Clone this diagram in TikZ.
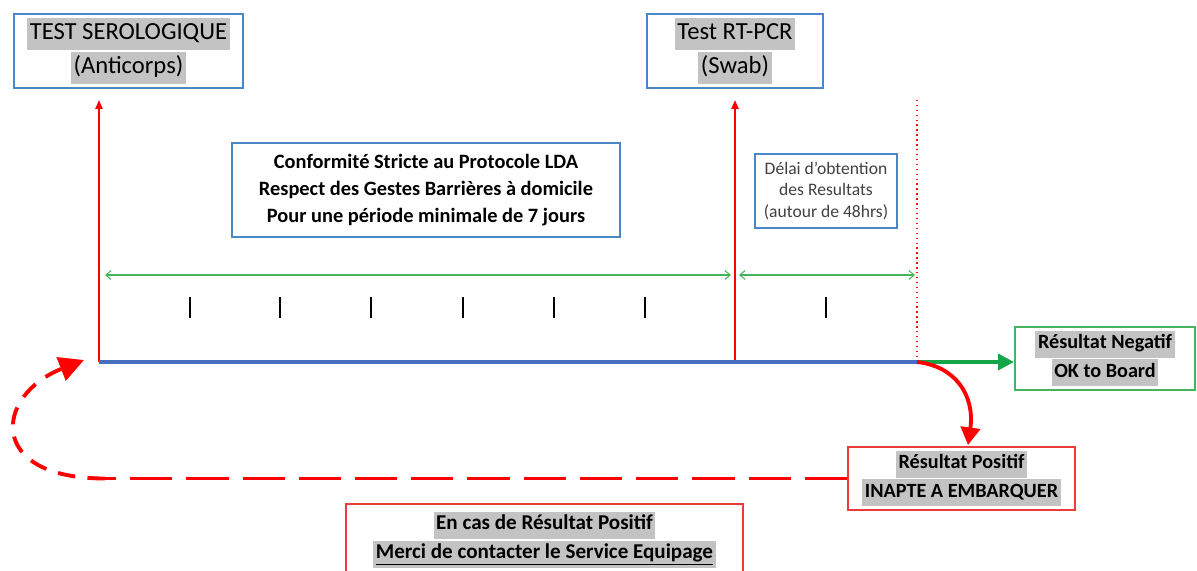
\documentclass[tikz,border=0pt]{standalone}
\usepackage{fontspec}
\setmainfont{Carlito}
\usetikzlibrary{arrows.meta}
\definecolor{boxblue}{RGB}{75,135,200}
\definecolor{boxgreen}{RGB}{70,180,90}
\definecolor{boxred}{RGB}{235,60,60}
\definecolor{lineblue}{RGB}{70,110,190}
\definecolor{arrowgreen}{RGB}{20,165,70}
\definecolor{hlgray}{RGB}{195,195,195}
\newcommand{\hl}[1]{{\setlength{\fboxsep}{1.5pt}\colorbox{hlgray}{\strut #1}}}

\begin{document}
\begin{tikzpicture}[x=0.02cm, y=-0.02cm,
    bluebox/.style={draw=boxblue, line width=1.2pt, align=center, inner sep=2pt},
    greenbox/.style={draw=boxgreen, line width=1.2pt, align=center, inner sep=2pt},
    redbox/.style={draw=boxred, line width=1.2pt, align=center, inner sep=2pt},
    upline/.style={draw=red, line width=1.1pt, -{Triangle[length=5pt,width=4pt]}},
    span/.style={draw=boxgreen, line width=0.6pt, {Straight Barb[length=3pt,width=5pt]}-{Straight Barb[length=3pt,width=5pt]}},
    bigred/.style={draw=red, line width=2.2pt}]
  \useasboundingbox (0,0) rectangle (1197,571);

  \node[bluebox, minimum width=4.58cm, minimum height=1.44cm, font=\fontsize{14}{15.5}\selectfont] (sero) at (128.5,51)
    {\hl{TEST SEROLOGIQUE}\\\hl{(Anticorps)}};
  \node[bluebox, minimum width=3.52cm, minimum height=1.44cm, font=\fontsize{14}{15.5}\selectfont] (pcr) at (735,51)
    {\hl{Test RT-PCR}\\\hl{(Swab)}};
  \node[bluebox, minimum width=7.76cm, minimum height=1.88cm, font=\fontsize{11.6}{15.3}\selectfont\bfseries] (proto) at (426,190)
    {Conformité Stricte au Protocole LDA\\Respect des Gestes Barrières à domicile\\Pour une période minimale de 7 jours};
  \node[bluebox, minimum width=2.84cm, minimum height=1.48cm, font=\fontsize{10}{12}\selectfont, text=black!75] (delai) at (826,191)
    {Délai d'obtention\\des Resultats\\(autour de 48hrs)};
  \node[greenbox, minimum width=3.6cm, minimum height=1.26cm, font=\fontsize{11.5}{12.3}\selectfont\bfseries] (neg) at (1105,358.5)
    {\hl{Résultat Negatif}\\\hl{OK to Board}};
  \node[redbox, minimum width=4.54cm, minimum height=1.26cm, font=\fontsize{11.5}{12.3}\selectfont\bfseries] (pos) at (961.5,478.5)
    {\hl{Résultat Positif}\\\hl{INAPTE A EMBARQUER}};
  \node[redbox, anchor=north, minimum width=7.94cm, minimum height=1.44cm, font=\fontsize{12}{12.3}\selectfont\bfseries] (cas) at (544.5,503)
    {\hl{En cas de Résultat Positif}\\\hl{\underline{Merci de contacter le Service Equipage}}};

  \coordinate (s) at (99,362);
  \coordinate (r) at (735,362);
  \coordinate (e) at (917,362);
  \coordinate (sup) at (99,100);
  \coordinate (rup) at (735,100);
  \coordinate (eup) at (917,100);
  \coordinate (g1) at (105,275);
  \coordinate (g2) at (731,275);
  \coordinate (g3) at (739,275);
  \coordinate (g4) at (915,275);
  \coordinate (posin) at (968,445);
  \coordinate (bend) at (105,478.5);
  \coordinate (back) at (84,360);

  \draw[upline] (s) -- (sup);
  \draw[upline] (r) -- (rup);
  \draw[red, dotted, line width=0.8pt] (e) -- (eup);
  \draw[span] (g1) -- (g2);
  \draw[span] (g3) -- (g4);
  \foreach \x in {190,280,371,463,554,645,826}
    \draw[black, line width=0.8pt] (\x,297) -- (\x,318);

  \draw[line width=2.2pt, lineblue] (s) -- (e);
  \draw[line width=2.2pt, arrowgreen, -{Triangle[length=9pt,width=9pt]}] (e) -- (e -| neg.west);
  \draw[bigred, -{Triangle[length=10pt,width=11pt]}] (e) .. controls (955,366) and (975,395) .. (posin);
  \draw[bigred, dash pattern=on 24pt off 8pt] (pos.west) -- (bend);
  \draw[bigred, dash pattern=on 10pt off 7pt, -{Triangle[length=14pt,width=14pt]}] (bend) .. controls (-15,478.5) and (-5,395) .. (back);
\end{tikzpicture}
\end{document}
